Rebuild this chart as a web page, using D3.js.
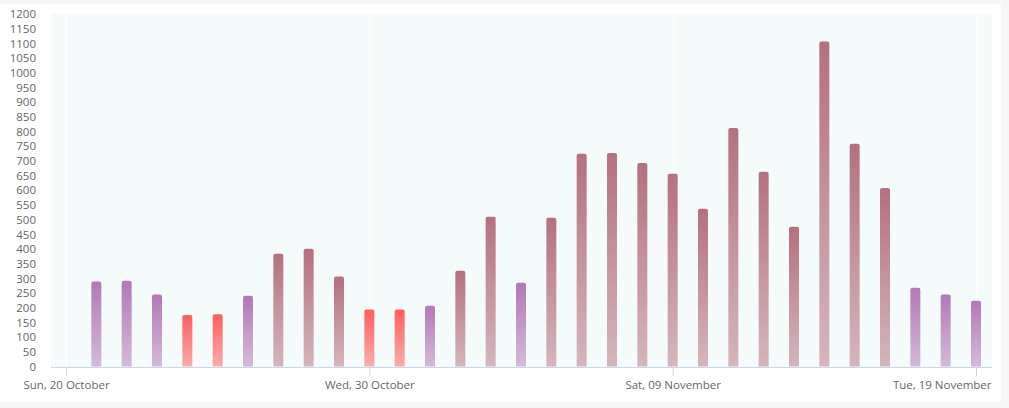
<!DOCTYPE html>
<html><head><meta charset="utf-8">
<script src="https://cdn.jsdelivr.net/npm/d3@7/dist/d3.min.js"></script>
<style>
html,body{margin:0;padding:0;background:#f7f7f7;}
svg{display:block;font-family:"Open Sans",sans-serif;}
</style></head>
<body>
<svg id="chart" width="1009" height="408"></svg>
<script>
const startDate = "2019-10-20";
const dates = ["2019-10-21","2019-10-22","2019-10-23","2019-10-24","2019-10-25","2019-10-26","2019-10-27","2019-10-28","2019-10-29","2019-10-30",
  "2019-10-31","2019-11-01","2019-11-02","2019-11-03","2019-11-04","2019-11-05","2019-11-06","2019-11-07","2019-11-08","2019-11-09",
  "2019-11-10","2019-11-11","2019-11-12","2019-11-13","2019-11-14","2019-11-15","2019-11-16","2019-11-17","2019-11-18","2019-11-19"];
const values = [289,292,245,175,178,241,384,401,306,194,194,207,326,510,285,506,724,727,693,656,537,812,663,476,1106,758,608,268,245,224];
const tickDates = ["2019-10-20","2019-10-30","2019-11-09","2019-11-19"];
const yTicks = d3.range(0, 1201, 50);
const thresholds = [200, 300];
const bandColors = ["#ff5e5e", "#b378b8", "#b5707f"];

const svg = d3.select("#chart");
const plot = {left: 51, right: 992, top: 14, bottom: 367};

svg.append("rect").attr("x",0).attr("y",4).attr("width",1001).attr("height",398).attr("fill","#ffffff");

const parse = d3.utcParse("%Y-%m-%d");
const x = d3.scaleUtc().domain([parse(startDate), parse(dates[dates.length-1])]).range([66, 976]);
const y = d3.scaleLinear().domain([0, 1200]).range([366.5, 14]);
const color = d3.scaleThreshold().domain(thresholds).range(bandColors);

svg.append("rect").attr("x",plot.left).attr("y",plot.top)
  .attr("width",plot.right-plot.left).attr("height",plot.bottom-plot.top).attr("fill","#f5fafa");

const defs = svg.append("defs");
bandColors.forEach((c,i)=>{
  const g = defs.append("linearGradient").attr("id","g"+i).attr("x1",0).attr("y1",0).attr("x2",0).attr("y2",1);
  g.append("stop").attr("offset","0%").attr("stop-color",c).attr("stop-opacity",1);
  g.append("stop").attr("offset","100%").attr("stop-color",c).attr("stop-opacity",0.5);
});

svg.append("g").selectAll("line").data(tickDates.map(parse)).join("line")
  .attr("x1",d=>Math.round(x(d))+0.5).attr("x2",d=>Math.round(x(d))+0.5)
  .attr("y1",plot.top).attr("y2",plot.bottom)
  .attr("stroke","#ffffff").attr("stroke-width",1.5);

const bw = 10, r = 2;
const data = dates.map((d,i)=>({date: parse(d), value: values[i]}));
svg.append("g").selectAll("path").data(data).join("path")
  .attr("d", d=>{
    const cx = x(d.date), x0 = cx - bw/2, x1 = cx + bw/2, y0 = y(d.value), yb = y(0);
    return `M${x0},${yb}V${y0+r}Q${x0},${y0} ${x0+r},${y0}H${x1-r}Q${x1},${y0} ${x1},${y0+r}V${yb}Z`;
  })
  .attr("fill", d=>"url(#g"+bandColors.indexOf(color(d.value))+")");

const xAxis = d3.axisBottom(x).tickValues(tickDates.map(parse)).tickFormat(d3.utcFormat("%a, %d %B")).tickSize(9).tickPadding(5);
const gx = svg.append("g").attr("transform","translate(0,367)").call(xAxis);
gx.select(".domain").attr("d",`M${plot.left},0.5H${plot.right}`).attr("stroke","#ccd6eb");
gx.selectAll(".tick line").attr("stroke","#ccd6eb");
gx.selectAll("text").attr("fill","#666666").style("font-size","11.5px").style("font-family","'Open Sans',sans-serif");
// keep last label inside the plot, right-aligned like the reference
const lastTick = gx.selectAll(".tick").filter((d,i,n)=>i===n.length-1);
lastTick.select("text").attr("text-anchor","end").attr("x", d=>plot.right - x(d) - 1);

const gy = svg.append("g").attr("transform","translate(36,0)")
  .call(d3.axisLeft(y).tickValues(yTicks).tickFormat(d3.format("d")).tickSize(0).tickPadding(0));
gy.select(".domain").remove();
gy.selectAll("text").attr("fill","#666666").style("font-size","11.5px").style("font-family","'Open Sans',sans-serif");
</script>
</body></html>
